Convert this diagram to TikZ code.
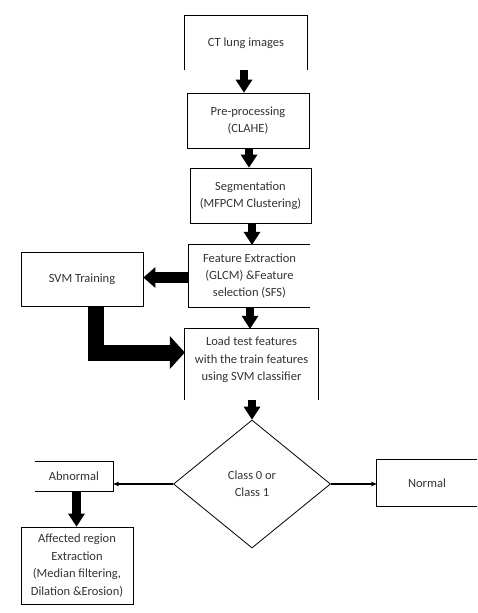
\documentclass[tikz,border=0pt]{standalone}
\usepackage{fontspec}
\setmainfont{Carlito}
\usetikzlibrary{arrows.meta,shapes.geometric}
\begin{document}
\begin{tikzpicture}[x=1pt,y=-1pt,
  txt/.style={font=\fontsize{12.5}{17.4}\selectfont, text=black!80, align=center, inner sep=0pt},
  boxline/.style={draw=black, line width=0.8pt},
  stepbox/.style={txt, boxline},
  openbox/.style={txt, draw=none},
  blockarrow/.style={draw=black, line width=8.5pt, line join=miter,
    -{Triangle[width=17pt,length=13pt,line width=0pt]}},
  bigarrow/.style={draw=black, line width=16pt, line join=miter,
    -{Triangle[width=33pt,length=15pt,line width=0pt]}},
  thinarrow/.style={draw=black, line width=1.2pt,
    -{Stealth[length=6pt,width=5pt,line width=0pt]}}
]
\useasboundingbox (0,0) rectangle (477,613);

% nodes
\node[openbox, minimum width=122pt, minimum height=54pt] (ct) at (246,43) {CT lung images};
\node[stepbox, minimum width=122pt, minimum height=55pt] (pre) at (248,120.5) {Pre-processing\\(CLAHE)};
\node[stepbox, minimum width=121pt, minimum height=55pt] (seg) at (250.5,195.5) {Segmentation\\(MFPCM Clustering)};
\node[openbox, minimum width=121pt, minimum height=62pt] (fe) at (249.5,276) {Feature Extraction\\(GLCM) \&Feature\\selection (SFS)};
\node[stepbox, minimum width=122pt, minimum height=54pt] (svm) at (82,279) {SVM Training};
\node[openbox, minimum width=133pt, minimum height=62pt] (load) at (251.5,360) {Load test features\\with the train features\\using SVM classifier};
\node[diamond, txt, boxline, minimum width=157pt, minimum height=128pt] (dia) at (252,484) {Class 0 or\\Class 1};
\node[openbox, minimum width=78pt, minimum height=29pt] (abn) at (74,476.5) {Abnormal};
\node[openbox, minimum width=100pt, minimum height=46pt] (nor) at (427,483) {Normal};
\node[stepbox, minimum width=112pt, minimum height=77pt] (aff) at (77,565.5) {Affected region\\Extraction\\(Median filtering,\\Dilation \&Erosion)};

% open box outlines
\draw[boxline] (ct.south west) -- (ct.north west) -- (ct.north east) -- (ct.south east);
\draw[boxline] (fe.north east) -- (fe.north west) -- (fe.south west) -- (fe.south east);
\draw[boxline] ([yshift=-9pt]load.south west) -- (load.north west) -- (load.north east) -- ([yshift=-9pt]load.south east);
\draw[boxline] (abn.north west) -- (abn.north east) -- (abn.south east) -- (abn.south west);
\draw[boxline] (nor.north east) -- (nor.north west) -- (nor.south west) -- (nor.south east);

% block arrows
\draw[blockarrow] ([xshift=-2pt]ct.south) -- ([xshift=-2pt]ct.south |- pre.north);
\draw[blockarrow] ([xshift=1pt]pre.south) -- ([xshift=1pt]pre.south |- seg.north);
\draw[blockarrow] ([xshift=1.5pt]seg.south) -- ([xshift=1.5pt]seg.south |- fe.north);
\draw[blockarrow, line width=11pt, -{Triangle[width=21pt,length=12pt,line width=0pt]}] ([yshift=-1.5pt]fe.west) -- ([yshift=-1.5pt]fe.west -| svm.east);
\draw[blockarrow] ([xshift=0.5pt]fe.south) -- ([xshift=0.5pt]fe.south |- load.north);
\draw[blockarrow] ([yshift=-9pt,xshift=0.5pt]load.south) -- (dia.north);
\coordinate (bend) at (95.5,352.5);
\draw[bigarrow] ([xshift=13.5pt]svm.south) -- (bend) -- (bend -| load.west);
\draw[blockarrow] ([xshift=2.5pt]abn.south) -- ([xshift=2.5pt]abn.south |- aff.north);

% thin arrows
\draw[thinarrow] (dia.west) -- (dia.west -| abn.east);
\draw[thinarrow] (dia.east) -- (dia.east -| nor.west);
\end{tikzpicture}
\end{document}
